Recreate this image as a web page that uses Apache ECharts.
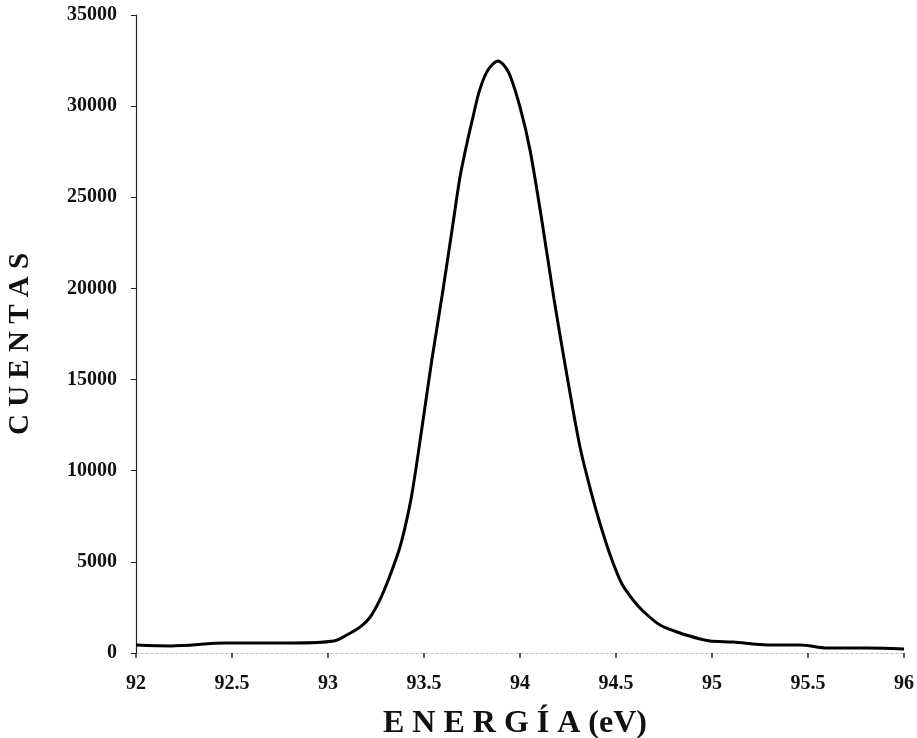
<!DOCTYPE html>
<html>
<head>
<meta charset="utf-8">
<script src="https://cdn.jsdelivr.net/npm/echarts@6/dist/echarts.min.js"></script>
<style>
  html, body { margin: 0; padding: 0; background: #fff; }
  #chart { width: 917px; height: 738px; }
</style>
</head>
<body>
<div id="chart"></div>
<script>
// Photoelectron peak: energy (eV) vs counts
const energy = [
  92.0, 92.18, 92.47, 92.82, 93.03, 93.10, 93.17, 93.22, 93.27, 93.32,
  93.375, 93.41, 93.44, 93.49, 93.54, 93.594, 93.646, 93.6875, 93.724, 93.755,
  93.79, 93.833, 93.885, 93.94, 94.0, 94.052, 94.115, 94.177, 94.245, 94.3125,
  94.38, 94.427, 94.479, 94.531, 94.589, 94.641, 94.729, 94.833, 94.938, 94.99,
  95.11, 95.29, 95.46, 95.60, 95.81, 96.0
];
const counts = [
  440, 390, 550, 550, 660, 1000, 1450, 1975, 2910, 4170,
  5815, 7300, 8900, 12400, 16020, 19585, 23205, 26110, 27980, 29400,
  30890, 31980, 32480, 31870, 29950, 27600, 23645, 19420, 15200, 11300,
  8450, 6750, 5100, 3785, 2910, 2300, 1536, 1097, 768, 658,
  600, 440, 440, 275, 275, 220
];
const yTicks = [0, 5000, 10000, 15000, 20000, 25000, 30000, 35000];
const xTicks = [92, 92.5, 93, 93.5, 94, 94.5, 95, 95.5, 96];
const xTitle = 'E N E R G Í A (eV)';
const yTitle = 'C U E N T A S';

const serif = '"Liberation Serif", "DejaVu Serif", serif';
const chart = echarts.init(document.getElementById('chart'), null, { renderer: 'canvas' });

chart.setOption({
  backgroundColor: '#ffffff',
  animation: false,
  grid: { left: 136, right: 13, top: 15, bottom: 85, containLabel: false },
  xAxis: {
    type: 'value',
    min: xTicks[0],
    max: xTicks[xTicks.length - 1],
    interval: 0.5,
    axisLine: { show: true, lineStyle: { color: '#bbb', width: 1, type: [2, 3] } },
    axisTick: { show: true, length: 5, lineStyle: { color: '#222', width: 1.5 } },
    splitLine: { show: false },
    axisLabel: {
      fontFamily: serif, fontWeight: 'bold', fontSize: 20, color: '#111', margin: 21,
      formatter: v => String(v)
    }
  },
  yAxis: {
    type: 'value',
    min: yTicks[0],
    max: yTicks[yTicks.length - 1],
    interval: 5000,
    axisLine: { show: true, lineStyle: { color: '#222', width: 1.2 } },
    axisTick: { show: true, length: 5, lineStyle: { color: '#222', width: 1 } },
    splitLine: { show: false },
    axisLabel: {
      fontFamily: serif, fontWeight: 'bold', fontSize: 20, color: '#111', margin: 19,
      formatter: v => String(v)
    }
  },
  graphic: [
    {
      type: 'text', x: 515, y: 724,
      style: { text: xTitle, font: 'bold 32px ' + serif, fill: '#111', align: 'center', verticalAlign: 'middle' }
    },
    {
      type: 'text', x: 21, y: 344, rotation: Math.PI / 2,
      style: { text: yTitle, font: 'bold 29px ' + serif, fill: '#111', align: 'center', verticalAlign: 'middle' }
    }
  ],
  series: [{
    type: 'line',
    data: energy.map((e, i) => [e, counts[i]]),
    smooth: 0.3,
    showSymbol: false,
    lineStyle: { color: '#000', width: 3 }
  }]
});
</script>
</body>
</html>
